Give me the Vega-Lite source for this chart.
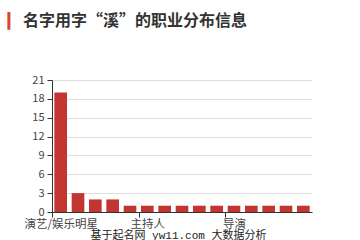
{
  "$schema": "https://vega.github.io/schema/vega-lite/v6.json",
  "autosize": {"type": "none"},
  "width": 260,
  "height": 132,
  "padding": {"left": 52, "top": 80, "right": 48, "bottom": 28},
  "background": "#ffffff",
  "title": {
    "text": "名字用字“溪”的职业分布信息",
    "anchor": "start",
    "frame": "group",
    "dx": -29,
    "offset": -29,
    "baseline": "alphabetic",
    "font": "Noto Sans CJK SC",
    "fontSize": 16,
    "fontWeight": "bold",
    "color": "#333333"
  },
  "data": {
    "values": [
      {"job": "演艺/娱乐明星", "count": 19},
      {"job": "歌手", "count": 3},
      {"job": "演员", "count": 2},
      {"job": "模特", "count": 2},
      {"job": "作家", "count": 1},
      {"job": "主持人", "count": 1},
      {"job": "运动员", "count": 1},
      {"job": "教师", "count": 1},
      {"job": "画家", "count": 1},
      {"job": "编剧", "count": 1},
      {"job": "导演", "count": 1},
      {"job": "医生", "count": 1},
      {"job": "律师", "count": 1},
      {"job": "商人", "count": 1},
      {"job": "设计师", "count": 1}
    ]
  },
  "mark": {"type": "bar", "color": "#c23531"},
  "encoding": {
    "x": {
      "field": "job",
      "type": "nominal",
      "sort": null,
      "scale": {"paddingInner": 0.27, "paddingOuter": 0.135},
      "axis": {
        "values": ["演艺/娱乐明星", "主持人", "导演"],
        "labelAngle": 0,
        "labelFont": "Noto Sans CJK SC",
        "labelFontSize": 11.5,
        "labelColor": "#444444",
        "labelPadding": 1,
        "tickOffset": -8.67,
        "labelOffset": 8.67,
        "tickColor": "#333333",
        "tickSize": 5,
        "domainColor": "#333333",
        "grid": false,
        "title": "基于起名网 yw11.com 大数据分析",
        "titleFont": "Liberation Mono, Noto Sans CJK SC",
        "titleFontSize": 11,
        "titleFontWeight": "normal",
        "titleColor": "#222222",
        "titleAnchor": "start",
        "titleAlign": "center",
        "titleX": 126,
        "titleY": 28,
        "titleBaseline": "bottom"
      }
    },
    "y": {
      "field": "count",
      "type": "quantitative",
      "scale": {"domain": [0, 21]},
      "axis": {
        "values": [0, 3, 6, 9, 12, 15, 18, 21],
        "labelFont": "Noto Sans CJK SC",
        "labelFontSize": 11,
        "labelColor": "#444444",
        "labelPadding": 3,
        "tickColor": "#333333",
        "tickSize": 5,
        "domainColor": "#333333",
        "gridColor": "#dddddd",
        "title": "▎",
        "titleAngle": 0,
        "titleFont": "DejaVu Sans",
        "titleFontSize": 15,
        "titleFontWeight": "normal",
        "titleColor": "#e0403c",
        "titleAlign": "left",
        "titleBaseline": "alphabetic",
        "titleX": -45,
        "titleY": -55
      }
    }
  },
  "config": {"view": {"stroke": null}}
}
